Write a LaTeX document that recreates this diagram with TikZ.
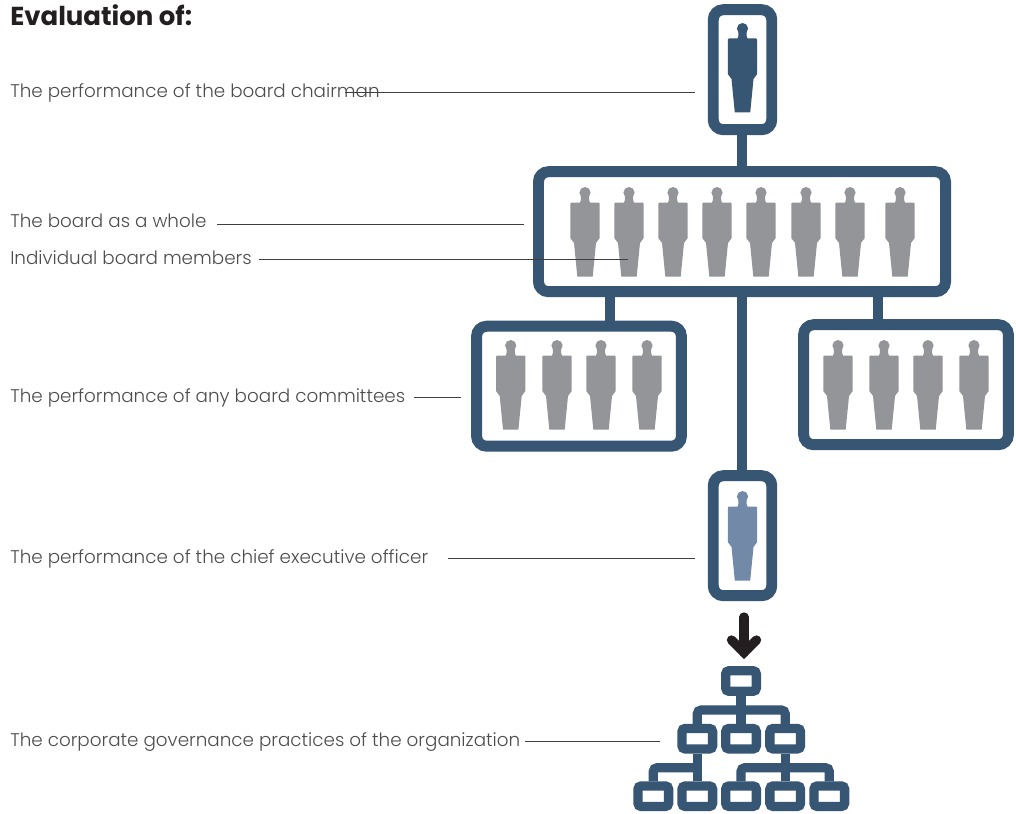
\documentclass[tikz,border=0pt]{standalone}
\usepackage{fontspec}
\setmainfont{Poppins Light}
\newfontfamily\headfont{Poppins Bold}
\definecolor{navy}{HTML}{375673}
\definecolor{figgray}{HTML}{939598}
\definecolor{figblue}{HTML}{7389A8}
\definecolor{inkblack}{HTML}{231F20}
\definecolor{labelink}{HTML}{4D4D4F}
\definecolor{leaderink}{HTML}{3F3F41}
\tikzset{
  frame/.style={draw=navy,line width=8.2pt,rounded corners=7.5pt,inner sep=0pt,fill=white},
  tall/.style={frame,minimum width=43.9pt,minimum height=90pt},
  wide/.style={frame,minimum width=305.3pt,minimum height=90pt},
  mid/.style={frame,minimum width=153.6pt,minimum height=90pt},
  orgbox/.style={draw=navy,line width=7pt,rounded corners=2.5pt,inner sep=0pt,fill=white,minimum width=23pt,minimum height=15.4pt},
  link/.style={draw=navy,line width=7.8pt},
  orglink/.style={draw=navy,line width=7pt,rounded corners=3pt},
  leader/.style={draw=leaderink,line width=0.75pt},
  lab/.style={font=\fontsize{13.75pt}{16pt}\selectfont,text=labelink,anchor=base west,inner sep=0pt},
  person/.pic={
    \fill[#1] (0,5.6) circle (5.6);
    \fill[#1] (-4.1,5) -- (-4.1,13) -- (-5,15.5) -- (-13.7,15.5) -- (-14.7,16.5) -- (-14.7,51) -- (-11,56)
      -- (-7.7,89.5) -- (7.7,89.5) -- (11,56) -- (14.7,51) -- (14.7,16.5) -- (13.7,15.5)
      -- (5,15.5) -- (4.1,13) -- (4.1,5) -- cycle;
  }
}
\begin{document}
\begin{tikzpicture}[x=0.75pt,y=-0.75pt]
\useasboundingbox[fill=white] (0,0) rectangle (1016,813);
% frames
\node[tall] (chair) at (742.5,69.7) {};
\node[wide] (board) at (742,231.7) {};
\node[mid] (cmtl) at (579,386.2) {};
\node[mid] (cmtr) at (906,384.7) {};
\node[tall] (ceo) at (742.5,535.7) {};
% frame links
\draw[link] (chair.south -| 742,0) -- (board.north -| 742,0);
\coordinate (lx) at (609.7,0);
\coordinate (rx) at (878,0);
\draw[link] (board.south -| lx) -- (cmtl.north -| lx);
\draw[link] (board.south -| rx) -- (cmtr.north -| rx);
\draw[link] (board.south -| 742,0) -- (ceo.north -| 742,0);
% figures
\pic at (742.5,23) {person=navy};
\foreach \cx in {585,629,673,717,761,806,850,900} \pic at (\cx,187) {person=figgray};
\foreach \cx in {510.7,557,601,647,838,884,928,974} \pic at (\cx,340) {person=figgray};
\pic at (742.5,491) {person=figblue};
% arrow
\coordinate (arrA) at (744,617);
\coordinate (arrB) at (744,652.5);
\draw[inkblack,line width=7pt,line cap=round] (arrA) -- (arrB);
\draw[inkblack,line width=7pt,line cap=round,line join=miter] (731.5,640) -- (arrB) -- (756.5,640);
% org chart
\node[orgbox] (o1) at (741,681) {};
\node[orgbox] (o2a) at (697.3,738.7) {};
\node[orgbox] (o2b) at (741,738.7) {};
\node[orgbox] (o2c) at (785.2,738.7) {};
\node[orgbox] (o3a) at (653.3,796.2) {};
\node[orgbox] (o3b) at (697.3,796.2) {};
\node[orgbox] (o3c) at (741,796.2) {};
\node[orgbox] (o3d) at (785.2,796.2) {};
\node[orgbox] (o3e) at (829.3,796.2) {};
\coordinate (busA) at (741,710);
\coordinate (busB) at (697.3,767.7);
\coordinate (busC) at (785.2,767.7);
\draw[orglink] (o1.south) -- (o2b.north);
\draw[orglink] (o2a.north) |- (busA) -| (o2c.north);
\draw[orglink] (o2a.south) -- (o3b.north);
\draw[orglink] (busB) -| (o3a.north);
\draw[orglink] (o2c.south) -- (o3d.north);
\draw[orglink] (o3c.north) |- (busC) -| (o3e.north);
% labels
\node[font=\headfont\fontsize{19.5pt}{22pt}\selectfont,text=inkblack,anchor=base west,inner sep=0pt] (title) at (10,26) {Evaluation of:};
\node[lab] (t1) at (10,98) {The performance of the board chairman};
\node[lab] (t2) at (10,227.5) {The board as a whole};
\node[lab] (t3) at (10,264) {Individual board members};
\node[lab] (t4) at (10,402) {The performance of any board committees};
\node[lab] (t5) at (10,563) {The performance of the chief executive officer};
\node[lab] (t6) at (10,746) {The corporate governance practices of the organization};
% leaders
\coordinate (s1) at (345,93);   \coordinate (e1) at (695,93);
\coordinate (s2) at (217,224);  \coordinate (e2) at (524,224);
\coordinate (s3) at (259,259);  \coordinate (e3) at (628,259);
\coordinate (s4) at (414,397);  \coordinate (e4) at (461,397);
\coordinate (s5) at (448,558);  \coordinate (e5) at (695,558);
\coordinate (s6) at (525,741.5);\coordinate (e6) at (660,741.5);
\foreach \i in {1,...,6} \draw[leader] (s\i) -- (e\i);
\end{tikzpicture}
\end{document}
